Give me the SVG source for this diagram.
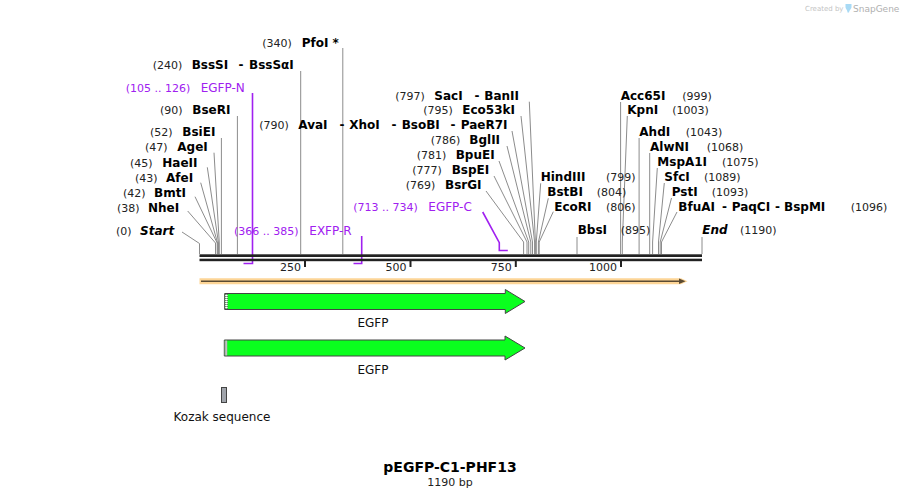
<svg xmlns="http://www.w3.org/2000/svg" width="902" height="498" viewBox="0 0 902 498">
<style>
.n{font-family:"DejaVu Sans",Verdana,sans-serif;font-size:11px;fill:#222}
.e{font-family:"DejaVu Sans",Verdana,sans-serif;font-size:12px;font-weight:bold;fill:#000}
.ei{font-family:"DejaVu Sans",Verdana,sans-serif;font-size:12px;font-weight:bold;font-style:italic;fill:#000}
.pn{font-family:"DejaVu Sans",Verdana,sans-serif;font-size:11px;fill:#a020f0}
.pl{font-family:"DejaVu Sans",Verdana,sans-serif;font-size:12px;fill:#a020f0}
.f{font-family:"DejaVu Sans",Verdana,sans-serif;font-size:12px;fill:#111}
.t{font-family:"DejaVu Sans",Verdana,sans-serif;font-size:11px;fill:#222}
.ld{fill:none;stroke:#8c8c8c;stroke-width:1}
.pr{fill:none;stroke:#a020f0;stroke-width:1.6}
.tick{stroke:#222;stroke-width:2}
.arrow{fill:#0aff1e;stroke:#444;stroke-width:1}
</style>

<!-- logo -->
<g id="logo">
<text x="805" y="11" font-family="DejaVu Sans, sans-serif" font-size="7px" fill="#c4c4c4">Created by</text>
<path d="M845.5,4 h6 v3 c0,2 -2,2.5 -2.5,5.5 h-1.5 c0,-3 -2,-3.5 -2,-5.5 z" fill="#a8daf5"/>
<text x="853" y="12" font-family="DejaVu Sans, sans-serif" font-size="9px" fill="#b0b0b0">SnapGene</text>
</g>

<!-- connectors -->
<g id="connectors">
<path class="ld" d="M182,232 L199.5,243.5 L199.5,254"/>
<path class="ld" d="M187.7,211 L215.5,243 L215.5,254"/>
<path class="ld" d="M195,196.7 L217.2,243 L217.2,254"/>
<path class="ld" d="M200.7,182.7 L217.6,243 L217.6,254"/>
<path class="ld" d="M207.3,167.3 L218.5,243 L218.5,254"/>
<path class="ld" d="M214,152.7 L219.3,243 L219.3,254"/>
<path class="ld" d="M221.4,138 L221.4,254"/>
<path class="ld" d="M237.4,116 L237.4,254"/>
<path class="ld" d="M300.7,71 L300.7,254"/>
<path class="ld" d="M342.8,48 L342.8,254"/>
<path class="ld" d="M512,131 L532.5,242 L532.5,254"/>
<path class="ld" d="M529.3,101.7 L535.4,242 L535.4,254"/>
<path class="ld" d="M521,116 L534.6,242 L534.6,254"/>
<path class="ld" d="M507,146 L530.8,242 L530.8,254"/>
<path class="ld" d="M499,161 L528.7,242 L528.7,254"/>
<path class="ld" d="M494,176 L527,242 L527,254"/>
<path class="ld" d="M486,191 L523.6,242 L523.6,254"/>
<path class="ld" d="M540.7,183.3 L536.3,242 L536.3,254"/>
<path class="ld" d="M548.3,198.3 L538.4,242 L538.4,254"/>
<path class="ld" d="M553.3,211.7 L539.2,242 L539.2,254"/>
<path class="ld" d="M577,237 L577,254"/>
<path class="ld" d="M620.6,102 L620.6,254"/>
<path class="ld" d="M627.3,116 L622.3,242 L622.3,254"/>
<path class="ld" d="M639.1,138 L639.1,254"/>
<path class="ld" d="M649.7,153 L649.7,254"/>
<path class="ld" d="M657.3,168 L652.6,242 L652.6,254"/>
<path class="ld" d="M664.3,183 L658.5,242 L658.5,254"/>
<path class="ld" d="M671.5,198 L660.2,242 L660.2,254"/>
<path class="ld" d="M677,212 L661.5,242 L661.5,254"/>
<path class="ld" d="M702,237 L702,254"/>
<!-- primers -->
<path class="pr" d="M252.5,93 L252.5,263.5 L243.5,263.5"/>
<path class="pr" d="M361.7,236 L361.7,263.5 L353.5,263.5"/>
<path class="pr" d="M482.7,212 L499.3,242.7 L499.3,250.5 L507.8,250.5"/>
</g>

<!-- backbone -->
<g id="backbone">
<rect x="199.5" y="254.3" width="502.5" height="2.7" fill="#222"/>
<rect x="199.5" y="258.7" width="502.5" height="2.5" fill="#222"/>
<line class="tick" x1="305" y1="261" x2="305" y2="267"/>
<line class="tick" x1="410.5" y1="261" x2="410.5" y2="267"/>
<line class="tick" x1="515.8" y1="261" x2="515.8" y2="267"/>
<line class="tick" x1="621" y1="261" x2="621" y2="267"/>
<text class="t" x="301" y="271" text-anchor="end">250</text>
<text class="t" x="406.5" y="271" text-anchor="end">500</text>
<text class="t" x="511.8" y="271" text-anchor="end">750</text>
<text class="t" x="617" y="271" text-anchor="end">1000</text>
</g>

<!-- labels left -->
<g id="Start"><text class="n" x="116" y="234.5">(0)</text><text class="ei" x="140" y="234.5">Start</text></g>
<g id="NheI"><text class="n" x="117" y="211.5">(38)</text><text class="e" x="148" y="211.5">NheI</text></g>
<g id="BmtI"><text class="n" x="123" y="196.5">(42)</text><text class="e" x="154" y="196.5">BmtI</text></g>
<g id="AfeI"><text class="n" x="135" y="181.5">(43)</text><text class="e" x="166" y="181.5">AfeI</text></g>
<g id="HaeII"><text class="n" x="130" y="166.5">(45)</text><text class="e" x="162.3" y="166.5">HaeII</text></g>
<g id="AgeI"><text class="n" x="145" y="151">(47)</text><text class="e" x="177.3" y="151">AgeI</text></g>
<g id="BsiEI"><text class="n" x="150" y="136">(52)</text><text class="e" x="182.3" y="136">BsiEI</text></g>
<g id="BseRI"><text class="n" x="160" y="114">(90)</text><text class="e" x="192.3" y="114">BseRI</text></g>
<g id="EGFP-N"><text class="pn" x="125.7" y="91.5">(105 .. 126)</text><text class="pl" x="200.7" y="91.5">EGFP-N</text></g>
<g id="BssSI"><text class="n" x="152.7" y="69">(240)</text><text class="e" x="191.7" y="69">BssSI</text><text class="e" x="238.5" y="69">-</text><text class="e" x="249" y="69">BssSαI</text></g>
<g id="PfoI"><text class="n" x="262.3" y="46.5">(340)</text><text class="e" x="301.7" y="46.5">PfoI *</text></g>

<!-- labels middle -->
<g id="AvaI"><text class="n" x="259.3" y="129">(790)</text><text class="e" x="298.3" y="129">AvaI</text><text class="e" x="339.5" y="129">-</text><text class="e" x="349.3" y="129">XhoI</text><text class="e" x="391.5" y="129">-</text><text class="e" x="401.7" y="129">BsoBI</text><text class="e" x="450.5" y="129">-</text><text class="e" x="460.7" y="129">PaeR7I</text></g>
<g id="SacI"><text class="n" x="395.3" y="99.5">(797)</text><text class="e" x="434.3" y="99.5">SacI</text><text class="e" x="474.5" y="99.5">-</text><text class="e" x="484.3" y="99.5">BanII</text></g>
<g id="Eco53kI"><text class="n" x="423.3" y="114">(795)</text><text class="e" x="462.3" y="114">Eco53kI</text></g>
<g id="BglII"><text class="n" x="430.7" y="144">(786)</text><text class="e" x="469.3" y="144">BglII</text></g>
<g id="BpuEI"><text class="n" x="416.7" y="159">(781)</text><text class="e" x="455.7" y="159">BpuEI</text></g>
<g id="BspEI"><text class="n" x="412.3" y="174">(777)</text><text class="e" x="451.7" y="174">BspEI</text></g>
<g id="BsrGI"><text class="n" x="405.7" y="189">(769)</text><text class="e" x="445" y="189">BsrGI</text></g>
<g id="EGFP-C"><text class="pn" x="353.3" y="211">(713 .. 734)</text><text class="pl" x="428.3" y="211">EGFP-C</text></g>
<g id="EXFP-R"><text class="pn" x="234" y="234.5">(366 .. 385)</text><text class="pl" x="309.3" y="234.5">EXFP-R</text></g>

<!-- labels right -->
<g id="HindIII"><text class="e" x="540.7" y="181">HindIII</text><text class="n" x="606" y="181">(799)</text></g>
<g id="BstBI"><text class="e" x="547.3" y="196">BstBI</text><text class="n" x="596.7" y="196">(804)</text></g>
<g id="EcoRI"><text class="e" x="554.3" y="211">EcoRI</text><text class="n" x="606" y="211">(806)</text></g>
<g id="BbsI"><text class="e" x="577.7" y="234">BbsI</text><text class="n" x="620.7" y="234">(895)</text></g>
<g id="Acc65I"><text class="e" x="620.7" y="99.5">Acc65I</text><text class="n" x="682.3" y="99.5">(999)</text></g>
<g id="KpnI"><text class="e" x="627.3" y="114">KpnI</text><text class="n" x="672.3" y="114">(1003)</text></g>
<g id="AhdI"><text class="e" x="639.3" y="136">AhdI</text><text class="n" x="685.7" y="136">(1043)</text></g>
<g id="AlwNI"><text class="e" x="650" y="151">AlwNI</text><text class="n" x="706.7" y="151">(1068)</text></g>
<g id="MspA1I"><text class="e" x="657.3" y="166">MspA1I</text><text class="n" x="722" y="166">(1075)</text></g>
<g id="SfcI"><text class="e" x="664.3" y="181">SfcI</text><text class="n" x="704" y="181">(1089)</text></g>
<g id="PstI"><text class="e" x="671.7" y="196">PstI</text><text class="n" x="711.7" y="196">(1093)</text></g>
<g id="BfuAI"><text class="e" x="678.3" y="211">BfuAI</text><text class="e" x="722" y="211">-</text><text class="e" x="731.7" y="211">PaqCI</text><text class="e" x="775" y="211">-</text><text class="e" x="784" y="211">BspMI</text><text class="n" x="850.7" y="211">(1096)</text></g>
<g id="End"><text class="ei" x="702.3" y="234">End</text><text class="n" x="740" y="234">(1190)</text></g>

<!-- ORF bar -->
<g id="orf">
<path d="M199.5,278.3 H681 L687.5,281.3 L681,284.2 H199.5 Z" fill="#fdd596"/>
<line x1="201" y1="281.3" x2="680" y2="281.3" stroke="#5a4a32" stroke-width="1.6"/>
<path d="M679,278.6 L685.5,281.3 L679,284 Z" fill="#5a4a32"/>
</g>

<!-- features -->
<g id="EGFP1">
<path class="arrow" d="M224.7,293.5 H505.3 V289.5 L525,301.5 L505.3,313.5 V309.5 H224.7 Z"/>
<rect x="225.2" y="294" width="2.4" height="15" fill="#fff"/>
<line x1="225.8" y1="294" x2="225.8" y2="309" stroke="#222" stroke-width="0.8" stroke-dasharray="1,1"/>
<line x1="227.2" y1="294" x2="227.2" y2="309" stroke="#222" stroke-width="0.8" stroke-dasharray="1,1"/>
<text class="f" x="373" y="327" text-anchor="middle" font-size="13px">EGFP</text>
</g>
<g id="EGFP2">
<path class="arrow" d="M224.3,340 H505 V336 L525,348 L505,360 V356 H224.3 Z"/>
<rect x="224.8" y="340.5" width="2.4" height="15" fill="#fff"/>
<line x1="225.4" y1="340.5" x2="225.4" y2="355.5" stroke="#222" stroke-width="0.8" stroke-dasharray="1,1"/>
<line x1="226.8" y1="340.5" x2="226.8" y2="355.5" stroke="#222" stroke-width="0.8" stroke-dasharray="1,1"/>
<text class="f" x="373" y="373.5" text-anchor="middle" font-size="13px">EGFP</text>
</g>
<g id="Kozak">
<rect x="221.5" y="387.5" width="5" height="15" fill="#a0a4ab" stroke="#444" stroke-width="1"/>
<text class="f" x="222" y="421" text-anchor="middle">Kozak sequence</text>
</g>

<!-- title -->
<g id="title">
<text x="450" y="472" text-anchor="middle" font-family="DejaVu Sans, Verdana, sans-serif" font-size="14px" font-weight="bold" fill="#000">pEGFP-C1-PHF13</text>
<text x="450" y="486" text-anchor="middle" font-family="DejaVu Sans, Verdana, sans-serif" font-size="11px" fill="#222">1190 bp</text>
</g>
</svg>
